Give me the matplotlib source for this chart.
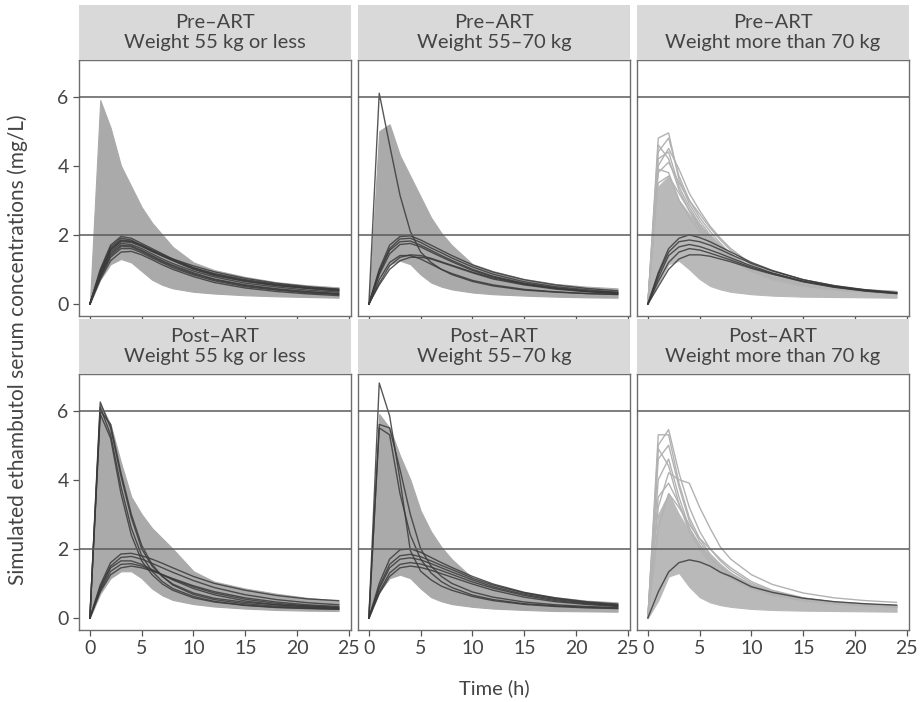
import matplotlib
matplotlib.use("Agg")
import matplotlib.pyplot as plt

plt.rcParams["font.family"] = ["Lato", "DejaVu Sans"]

# sampling times (h)
times = [0, 1, 2, 3, 4, 5, 6, 7, 8, 10, 12, 15, 18, 21, 24]

strip_titles = [
    "Pre\u2013ART\nWeight 55 kg or less",
    "Pre\u2013ART\nWeight 55\u201370 kg",
    "Pre\u2013ART\nWeight more than 70 kg",
    "Post\u2013ART\nWeight 55 kg or less",
    "Post\u2013ART\nWeight 55\u201370 kg",
    "Post\u2013ART\nWeight more than 70 kg",
]
target_lines = [2, 6]
x_ticks = [0, 5, 10, 15, 20, 25]
y_ticks = [0, 2, 4, 6]

# simulated band (upper / lower edge of the grey mass)
sim_upper = [
    [0, 5.9, 5.1, 4.0, 3.4, 2.8, 2.35, 2.0, 1.65, 1.2, 0.98, 0.78, 0.63, 0.54, 0.48],
    [0, 5.0, 5.2, 4.3, 3.7, 3.1, 2.5, 2.05, 1.7, 1.15, 0.95, 0.72, 0.58, 0.5, 0.45],
    [0, 3.4, 3.7, 3.0, 2.6, 2.3, 1.95, 1.65, 1.4, 1.02, 0.8, 0.6, 0.47, 0.39, 0.34],
    [0, 6.2, 5.6, 4.5, 3.5, 3.0, 2.6, 2.3, 2.0, 1.35, 1.05, 0.85, 0.7, 0.58, 0.5],
    [0, 5.9, 5.5, 4.7, 4.0, 3.1, 2.5, 2.05, 1.7, 1.15, 0.95, 0.74, 0.6, 0.5, 0.45],
    [0, 3.0, 3.6, 3.0, 2.5, 2.1, 1.75, 1.5, 1.28, 0.96, 0.76, 0.58, 0.47, 0.41, 0.37],
]
sim_lower = [
    [0, 0.7, 1.15, 1.3, 1.2, 0.95, 0.7, 0.55, 0.45, 0.35, 0.3, 0.25, 0.22, 0.2, 0.18],
    [0, 0.75, 1.15, 1.25, 1.15, 0.85, 0.62, 0.5, 0.42, 0.33, 0.28, 0.24, 0.21, 0.19, 0.18],
    [0, 0.6, 1.15, 1.25, 1.0, 0.72, 0.52, 0.42, 0.35, 0.28, 0.24, 0.21, 0.2, 0.19, 0.18],
    [0, 0.7, 1.15, 1.35, 1.35, 1.15, 0.85, 0.65, 0.52, 0.4, 0.33, 0.27, 0.23, 0.21, 0.2],
    [0, 0.75, 1.15, 1.25, 1.15, 0.85, 0.6, 0.48, 0.4, 0.32, 0.27, 0.23, 0.2, 0.19, 0.18],
    [0, 0.5, 1.2, 1.3, 0.9, 0.6, 0.45, 0.37, 0.32, 0.26, 0.23, 0.21, 0.2, 0.19, 0.18],
]

# individual simulated profiles that stick out of the band (>70 kg panels)
sim_pre_heavy = [
    [0, 4.8, 4.95, 3.6, 2.9, 2.4, 2.0, 1.7, 1.45, 1.05, 0.8, 0.6, 0.47, 0.4, 0.35],
    [0, 4.4, 4.8, 3.7, 3.0, 2.5, 2.1, 1.75, 1.45, 1.05, 0.8, 0.58, 0.45, 0.38, 0.33],
    [0, 4.2, 4.4, 3.4, 2.8, 2.3, 1.9, 1.6, 1.35, 1.0, 0.76, 0.56, 0.44, 0.37, 0.32],
    [0, 3.8, 4.1, 3.5, 3.0, 2.6, 2.2, 1.85, 1.55, 1.12, 0.85, 0.62, 0.48, 0.4, 0.35],
    [0, 3.9, 3.8, 3.0, 2.5, 2.1, 1.75, 1.5, 1.3, 0.95, 0.72, 0.52, 0.41, 0.34, 0.3],
    [0, 3.5, 3.7, 3.2, 2.7, 2.3, 1.95, 1.65, 1.4, 1.02, 0.78, 0.57, 0.44, 0.37, 0.32],
    [0, 4.6, 4.2, 3.3, 2.7, 2.2, 1.8, 1.52, 1.28, 0.94, 0.71, 0.52, 0.41, 0.35, 0.31],
    [0, 4.0, 4.5, 3.9, 3.2, 2.7, 2.25, 1.9, 1.6, 1.15, 0.87, 0.63, 0.49, 0.41, 0.36],
]
sim_post_heavy = [
    [0, 5.3, 5.3, 3.9, 2.9, 2.3, 1.85, 1.55, 1.3, 0.95, 0.74, 0.55, 0.44, 0.38, 0.34],
    [0, 5.0, 5.45, 4.2, 3.2, 2.5, 2.0, 1.65, 1.38, 1.0, 0.77, 0.57, 0.45, 0.39, 0.35],
    [0, 4.6, 5.0, 3.8, 2.8, 2.2, 1.8, 1.5, 1.25, 0.92, 0.72, 0.54, 0.43, 0.37, 0.33],
    [0, 4.0, 4.6, 3.5, 2.6, 2.1, 1.7, 1.45, 1.22, 0.9, 0.7, 0.53, 0.43, 0.37, 0.33],
    [0, 3.2, 4.2, 4.0, 3.9, 3.2, 2.6, 2.05, 1.7, 1.25, 0.97, 0.72, 0.58, 0.5, 0.45],
    [0, 3.5, 3.9, 3.3, 2.6, 2.1, 1.75, 1.45, 1.2, 0.88, 0.68, 0.5, 0.4, 0.35, 0.31],
    [0, 2.6, 3.6, 3.2, 2.7, 2.3, 2.0, 1.7, 1.45, 1.05, 0.8, 0.58, 0.46, 0.4, 0.36],
    [0, 4.9, 4.4, 3.3, 2.5, 2.0, 1.6, 1.35, 1.15, 0.85, 0.66, 0.5, 0.41, 0.36, 0.32],
]
sim_extra = [[], [], sim_pre_heavy, [], [], sim_post_heavy]

# observed / individual profiles (dark lines)
obs_pre_light = [
    [0, 1.0, 1.7, 1.95, 1.9, 1.75, 1.6, 1.45, 1.3, 1.05, 0.88, 0.7, 0.57, 0.48, 0.42],
    [0, 0.9, 1.6, 1.85, 1.82, 1.68, 1.52, 1.38, 1.25, 1.0, 0.82, 0.65, 0.53, 0.45, 0.38],
    [0, 0.95, 1.65, 1.9, 1.85, 1.7, 1.55, 1.4, 1.26, 1.02, 0.84, 0.66, 0.54, 0.45, 0.38],
    [0, 0.85, 1.5, 1.75, 1.72, 1.6, 1.45, 1.3, 1.17, 0.95, 0.78, 0.6, 0.49, 0.4, 0.34],
    [0, 0.8, 1.45, 1.7, 1.68, 1.55, 1.4, 1.25, 1.12, 0.9, 0.72, 0.55, 0.44, 0.36, 0.3],
    [0, 0.75, 1.35, 1.6, 1.6, 1.48, 1.33, 1.19, 1.05, 0.84, 0.67, 0.5, 0.4, 0.32, 0.27],
    [0, 0.7, 1.25, 1.5, 1.52, 1.42, 1.28, 1.13, 1.0, 0.79, 0.62, 0.46, 0.36, 0.29, 0.24],
    [0, 0.9, 1.55, 1.8, 1.78, 1.66, 1.52, 1.4, 1.3, 1.1, 0.93, 0.74, 0.6, 0.5, 0.43],
    [0, 0.88, 1.58, 1.83, 1.8, 1.7, 1.56, 1.42, 1.28, 1.04, 0.86, 0.68, 0.55, 0.46, 0.4],
    [0, 0.78, 1.4, 1.66, 1.65, 1.52, 1.37, 1.22, 1.09, 0.87, 0.7, 0.53, 0.42, 0.34, 0.29],
]
obs_pre_mid = [
    [0, 6.1, 4.6, 3.15, 2.1, 1.5, 1.2, 1.0, 0.85, 0.65, 0.52, 0.4, 0.34, 0.3, 0.28],
    [0, 1.0, 1.7, 1.95, 1.97, 1.85, 1.7, 1.55, 1.4, 1.13, 0.92, 0.7, 0.55, 0.45, 0.38],
    [0, 0.95, 1.6, 1.88, 1.9, 1.78, 1.62, 1.48, 1.33, 1.07, 0.86, 0.64, 0.5, 0.41, 0.34],
    [0, 0.9, 1.55, 1.8, 1.82, 1.7, 1.55, 1.4, 1.26, 1.0, 0.8, 0.6, 0.47, 0.38, 0.32],
    [0, 0.85, 1.45, 1.72, 1.75, 1.65, 1.5, 1.36, 1.22, 0.97, 0.78, 0.58, 0.45, 0.37, 0.31],
    [0, 0.6, 1.1, 1.35, 1.42, 1.4, 1.32, 1.22, 1.12, 0.92, 0.75, 0.57, 0.45, 0.37, 0.31],
    [0, 0.55, 1.0, 1.25, 1.35, 1.35, 1.3, 1.2, 1.1, 0.9, 0.72, 0.55, 0.43, 0.35, 0.3],
    [0, 0.7, 1.2, 1.4, 1.4, 1.3, 1.15, 1.0, 0.88, 0.68, 0.55, 0.42, 0.35, 0.3, 0.27],
]
obs_pre_heavy = [
    [0, 0.9, 1.6, 1.9, 2.0, 1.92, 1.8, 1.65, 1.5, 1.2, 0.97, 0.7, 0.52, 0.4, 0.32],
    [0, 0.85, 1.5, 1.8, 1.85, 1.8, 1.7, 1.57, 1.43, 1.17, 0.95, 0.7, 0.53, 0.41, 0.33],
    [0, 0.75, 1.4, 1.65, 1.72, 1.66, 1.56, 1.45, 1.33, 1.1, 0.9, 0.66, 0.5, 0.39, 0.31],
    [0, 0.65, 1.2, 1.5, 1.6, 1.56, 1.47, 1.37, 1.27, 1.06, 0.88, 0.65, 0.49, 0.38, 0.3],
    [0, 0.5, 1.0, 1.3, 1.42, 1.42, 1.38, 1.3, 1.22, 1.03, 0.86, 0.64, 0.48, 0.37, 0.3],
]
obs_post_light = [
    [0, 6.25, 5.5, 4.1, 2.9, 2.0, 1.5, 1.2, 0.98, 0.72, 0.57, 0.45, 0.38, 0.34, 0.3],
    [0, 6.0, 5.6, 4.2, 3.0, 2.1, 1.55, 1.2, 0.95, 0.68, 0.53, 0.41, 0.34, 0.3, 0.27],
    [0, 6.1, 5.3, 3.8, 2.6, 1.8, 1.35, 1.05, 0.85, 0.62, 0.48, 0.37, 0.31, 0.28, 0.25],
    [0, 5.9, 5.2, 3.6, 2.4, 1.65, 1.25, 0.98, 0.8, 0.58, 0.46, 0.36, 0.3, 0.27, 0.25],
    [0, 0.95, 1.6, 1.85, 1.87, 1.8, 1.7, 1.58, 1.45, 1.2, 1.0, 0.8, 0.65, 0.55, 0.5],
    [0, 0.9, 1.5, 1.75, 1.78, 1.7, 1.58, 1.45, 1.32, 1.08, 0.88, 0.67, 0.53, 0.44, 0.38],
    [0, 0.8, 1.35, 1.55, 1.57, 1.5, 1.38, 1.25, 1.12, 0.9, 0.72, 0.54, 0.42, 0.35, 0.3],
    [0, 0.75, 1.25, 1.45, 1.5, 1.45, 1.36, 1.25, 1.14, 0.93, 0.76, 0.58, 0.46, 0.38, 0.33],
    [0, 0.85, 1.45, 1.65, 1.65, 1.55, 1.4, 1.25, 1.1, 0.85, 0.67, 0.49, 0.38, 0.32, 0.28],
]
obs_post_mid = [
    [0, 6.8, 5.85, 4.0, 1.95, 1.35, 1.1, 0.92, 0.8, 0.62, 0.5, 0.39, 0.33, 0.29, 0.27],
    [0, 5.6, 5.5, 4.3, 3.0, 2.0, 1.5, 1.2, 1.0, 0.75, 0.6, 0.46, 0.38, 0.33, 0.3],
    [0, 5.5, 5.3, 3.6, 2.4, 1.7, 1.3, 1.05, 0.88, 0.66, 0.53, 0.41, 0.35, 0.31, 0.28],
    [0, 1.0, 1.7, 1.97, 2.0, 1.9, 1.75, 1.6, 1.46, 1.2, 0.98, 0.74, 0.58, 0.47, 0.4],
    [0, 0.9, 1.55, 1.8, 1.84, 1.77, 1.65, 1.52, 1.4, 1.15, 0.95, 0.72, 0.56, 0.45, 0.38],
    [0, 0.85, 1.45, 1.7, 1.74, 1.68, 1.57, 1.45, 1.33, 1.1, 0.9, 0.68, 0.53, 0.43, 0.36],
    [0, 0.75, 1.3, 1.55, 1.6, 1.56, 1.47, 1.37, 1.26, 1.04, 0.86, 0.65, 0.5, 0.41, 0.35],
    [0, 0.7, 1.2, 1.45, 1.5, 1.46, 1.38, 1.28, 1.18, 0.98, 0.8, 0.6, 0.47, 0.39, 0.33],
]
obs_post_heavy = [
    [0, 0.75, 1.33, 1.6, 1.68, 1.62, 1.5, 1.32, 1.2, 0.9, 0.74, 0.57, 0.47, 0.41, 0.37],
]
observed = [obs_pre_light, obs_pre_mid, obs_pre_heavy,
            obs_post_light, obs_post_mid, obs_post_heavy]

# band colour: dense panels grey, >70 kg panels a touch lighter
band_colors = ["#aaaaaa", "#aaaaaa", "#b9b9b9", "#aaaaaa", "#aaaaaa", "#b9b9b9"]

W, H = 921, 702
fig = plt.figure(figsize=(W / 100, H / 100), dpi=100)

col_left = [79, 358, 637]
panel_w = 272
row_top = [60, 374]
panel_h = 256
strip_h = 55

for i in range(6):
    r, c = divmod(i, 3)
    left = col_left[c] / W
    bottom = (H - row_top[r] - panel_h) / H
    ax = fig.add_axes([left, bottom, panel_w / W, panel_h / H])

    ax.fill_between(times, sim_lower[i], sim_upper[i], color=band_colors[i],
                    lw=0.8, edgecolor=band_colors[i], zorder=1)
    for prof in sim_extra[i]:
        ax.plot(times, prof, color="#b2b2b2", lw=1.0, zorder=2)
    for prof in observed[i]:
        ax.plot(times, prof, color="#3a3a3a", lw=1.0, alpha=0.85, zorder=3)
    for yv in target_lines:
        ax.axhline(yv, color="#5a5a5a", lw=1.1, zorder=4)

    ax.set_xlim(-1.05, 25.2)
    ax.set_ylim(-0.35, 7.06)
    ax.set_xticks(x_ticks)
    ax.set_yticks(y_ticks)
    ax.tick_params(colors="#555555", labelcolor="#444444", labelsize=14,
                   length=4, width=0.9)
    if c != 0:
        ax.tick_params(axis="y", left=False, labelleft=False)
    if r == 0:
        ax.tick_params(axis="x", labelbottom=False)
    for sp in ax.spines.values():
        sp.set_color("#6e6e6e")
        sp.set_linewidth(1.0)

    # facet strip
    sax = fig.add_axes([left, (H - row_top[r]) / H, panel_w / W, strip_h / H])
    sax.set_facecolor("#d9d9d9")
    sax.set_xticks([])
    sax.set_yticks([])
    for sp in sax.spines.values():
        sp.set_visible(False)
    sax.text(0.5, 0.5, strip_titles[i], ha="center", va="center",
             fontsize=14.5, color="#444444", linespacing=1.15,
             transform=sax.transAxes)

fig.text(18 / W, 1 - 350 / H, "Simulated ethambutol serum concentrations (mg/L)",
         rotation=90, ha="center", va="center", fontsize=15, color="#444444")
fig.text(494 / W, 1 - 688 / H, "Time (h)", ha="center", va="center",
         fontsize=14.5, color="#444444")

fig.savefig("out.png", dpi=100)
